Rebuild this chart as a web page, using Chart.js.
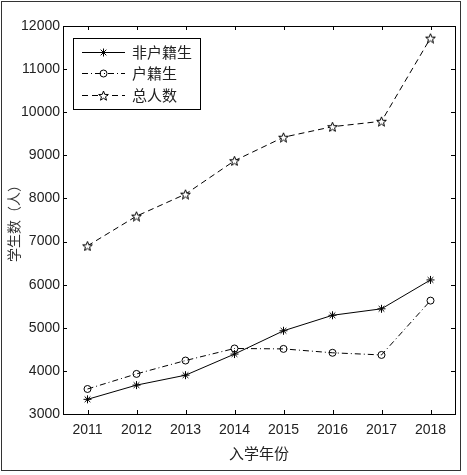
<!DOCTYPE html>
<html>
<head>
<meta charset="utf-8">
<script src="https://cdn.jsdelivr.net/npm/chart.js@4/dist/chart.umd.min.js"></script>
<style>
  html, body { margin: 0; padding: 0; background: #fff; }
  #wrap { position: relative; width: 467px; height: 475px; }
</style>
</head>
<body>
<div id="wrap"><canvas id="c" width="467" height="475"></canvas></div>
<script>
const years = ['2011', '2012', '2013', '2014', '2015', '2016', '2017', '2018'];
const nonLocal = [3340, 3670, 3900, 4390, 4930, 5290, 5440, 6110];   // 非户籍生
const local = [3580, 3930, 4240, 4520, 4510, 4420, 4370, 5630];      // 户籍生
const total = [6900, 7590, 8100, 8875, 9420, 9665, 9790, 11720];     // 总人数
const yTicks = [3000, 4000, 5000, 6000, 7000, 8000, 9000, 10000, 11000, 12000];

const CJK = '"Noto Sans CJK SC", "Liberation Sans", sans-serif';
const LAT = '"Liberation Sans", Arial, sans-serif';

// pentagram marker, like matlab 'p'
function pentagram(size) {
  const cv = document.createElement('canvas');
  cv.width = size; cv.height = size;
  const g = cv.getContext('2d');
  const cx = size / 2, cy = size / 2 + 0.6, ro = size / 2 - 0.4, ri = ro * 0.42;
  g.beginPath();
  for (let i = 0; i < 10; i++) {
    const r = i % 2 ? ri : ro;
    const a = -Math.PI / 2 + i * Math.PI / 5;
    const px = cx + r * Math.cos(a), py = cy + r * Math.sin(a);
    i ? g.lineTo(px, py) : g.moveTo(px, py);
  }
  g.closePath();
  g.fillStyle = '#fff';
  g.fill();
  g.strokeStyle = '#000';
  g.lineWidth = 1;
  g.stroke();
  return cv;
}
const starImg = pentagram(11);

// box around the axes with inward ticks, the outer frame and the legend
const boxPlugin = {
  id: 'box',
  afterDraw(chart) {
    const ctx = chart.ctx;
    const a = chart.chartArea;
    const xs = chart.scales.x, ys = chart.scales.y;
    ctx.save();
    ctx.strokeStyle = '#000';
    ctx.lineWidth = 1;
    ctx.strokeRect(Math.round(a.left) + 0.5, Math.round(a.top) + 0.5,
      Math.round(a.right - a.left), Math.round(a.bottom - a.top));
    ctx.beginPath();
    const L = 4;
    years.forEach((y, i) => {
      const px = Math.round(xs.getPixelForValue(i)) + 0.5;
      ctx.moveTo(px, a.bottom); ctx.lineTo(px, a.bottom - L);
      ctx.moveTo(px, a.top); ctx.lineTo(px, a.top + L);
    });
    yTicks.forEach(v => {
      const py = Math.round(ys.getPixelForValue(v)) + 0.5;
      ctx.moveTo(a.left, py); ctx.lineTo(a.left + L, py);
      ctx.moveTo(a.right, py); ctx.lineTo(a.right - L, py);
    });
    ctx.stroke();

    // outer frame
    ctx.strokeStyle = '#333';
    ctx.strokeRect(1.5, 1.5, 459, 469);

    // legend
    const lx = 73, ly = 38, lw = 127, lh = 71;
    ctx.fillStyle = '#fff';
    ctx.fillRect(lx, ly, lw, lh);
    ctx.strokeStyle = '#000';
    ctx.strokeRect(lx + 0.5, ly + 0.5, lw, lh);
    const rows = [52, 73, 95];
    chart.data.datasets.forEach((ds, i) => {
      const ry = rows[i] + 0.5;
      ctx.save();
      ctx.strokeStyle = '#000';
      ctx.lineWidth = 1;
      ctx.setLineDash(ds.borderDash || []);
      ctx.beginPath();
      ctx.moveTo(82, ry); ctx.lineTo(125, ry);
      ctx.stroke();
      ctx.restore();
      ctx.save();
      ctx.fillStyle = ds.pointBackgroundColor;
      ctx.strokeStyle = '#000';
      ctx.lineWidth = 1;
      Chart.helpers.drawPoint(ctx, {
        pointStyle: ds.pointStyle, radius: ds.pointRadius, borderWidth: 1, rotation: 0
      }, 103.5, ry);
      ctx.restore();
      ctx.fillStyle = '#222';
      ctx.font = '15px ' + CJK;
      ctx.textBaseline = 'middle';
      ctx.textAlign = 'left';
      ctx.fillText(ds.label, 132, rows[i]);
    });
    ctx.restore();
  }
};

new Chart(document.getElementById('c'), {
  type: 'line',
  data: {
    labels: years,
    datasets: [{
      label: '非户籍生',
      data: nonLocal,
      borderColor: '#000',
      borderWidth: 1,
      pointStyle: 'star',
      pointRadius: 4,
      pointBorderColor: '#000',
      pointBackgroundColor: 'rgba(0,0,0,0)',
      pointBorderWidth: 1
    }, {
      label: '户籍生',
      data: local,
      borderColor: '#000',
      borderWidth: 1,
      borderDash: [6, 3, 1, 3],
      pointStyle: 'circle',
      pointRadius: 3.5,
      pointBorderColor: '#000',
      pointBackgroundColor: 'rgba(0,0,0,0)',
      pointBorderWidth: 1
    }, {
      label: '总人数',
      data: total,
      borderColor: '#000',
      borderWidth: 1,
      borderDash: [6, 4],
      pointStyle: starImg,
      pointRadius: 5,
      pointBorderColor: '#000',
      pointBackgroundColor: 'rgba(0,0,0,0)',
      pointBorderWidth: 1
    }]
  },
  options: {
    responsive: false,
    animation: false,
    devicePixelRatio: 1,
    layout: { padding: { left: 0, top: 26, right: 12, bottom: 0 } },
    plugins: { legend: { display: false }, tooltip: { enabled: false } },
    scales: {
      x: {
        type: 'category',
        offset: true,
        grid: { display: false, drawTicks: false },
        border: { display: false },
        ticks: { color: '#222', font: { family: LAT, size: 14 }, padding: 8, maxRotation: 0 },
        title: { display: true, text: '入学年份', color: '#222', font: { family: CJK, size: 15 }, padding: { top: 0, bottom: 13 } },
        afterFit(s) { s.height = 61; }
      },
      y: {
        min: 3000,
        max: 12000,
        grid: { display: false, drawTicks: false },
        border: { display: false },
        ticks: { stepSize: 1000, color: '#222', font: { family: LAT, size: 14 }, padding: 3, callback: v => String(v) },
        afterBuildTicks(s) { s.ticks = yTicks.map(v => ({ value: v })); },
        title: { display: true, text: '学生数（人）', color: '#333', font: { family: CJK, size: 14 }, padding: { top: 5, bottom: 0 } },
        afterFit(s) { s.width = 63; }
      }
    }
  },
  plugins: [boxPlugin]
});
</script>
</body>
</html>
